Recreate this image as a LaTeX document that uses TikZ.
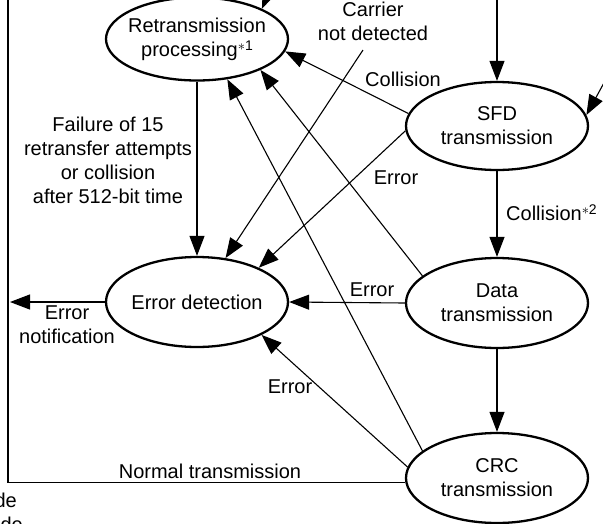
\documentclass[tikz,border=0pt]{standalone}
\usepackage{fontspec}
\setmainfont{Liberation Sans}
\usetikzlibrary{shapes.geometric,arrows.meta}
\begin{document}
\begin{tikzpicture}[x=1pt,y=-1pt,
  stnode/.style={ellipse,draw,line width=2.3pt,inner ysep=0pt,inner xsep=-8pt,align=center,minimum width=182pt,minimum height=88pt},
  conn/.style={line width=1.1pt,-{Triangle[length=20pt,width=15pt]}},
  plainln/.style={line width=1.1pt},
  lbl/.style={align=center,inner sep=0pt},
  font=\fontsize{20}{24}\selectfont]
\useasboundingbox (0,0) rectangle (603,523);
\clip (0,0) rectangle (603,523);
% states
\node[stnode,minimum height=83pt] (ret) at (197,39) {Retransmission\\processing{\fontsize{14}{14}\selectfont\raisebox{6pt}{$\ast$1}}};
\node[stnode] (sfd) at (497,126) {SFD\\transmission};
\node[stnode,minimum height=90pt] (err) at (197,302) {Error detection};
\node[stnode,minimum height=90pt] (data) at (497,303) {Data\\transmission};
\node[stnode,minimum height=90pt] (crc) at (497,478) {CRC\\transmission};
% free ends
\coordinate (carr) at (363,50);
\coordinate (notif) at (10,302);
\coordinate (ftop) at (8,-10);
\coordinate (sfdin) at (497,-10);
\coordinate (sfdr) at (611,70);
\coordinate (retin) at (285,-45);
% connectors
\draw[conn] (ret.south) -- (err.north);
\draw[conn] (carr) -- (err.57);
\draw[conn] (sfd.172) -- (ret.-8);
\draw[conn] (sfd.183) -- (err.29);
\draw[conn] (data.160) -- (ret.-26);
\draw[conn] (crc.160) -- (ret.-53);
\draw[conn] (crc.173) -- (err.-27);
\draw[conn] (data.west) -- (err.east);
\draw[conn] (sfd.south) -- (data.north);
\draw[conn] (data.south) -- (crc.north);
\draw[conn] (err.west) -- (notif);
\draw[plainln] (crc.183) -| (ftop);
\draw[conn] (sfdin) -- (sfd.north);
\draw[conn] (sfdr) -- (sfd.7);
\draw[conn] (retin) -- (ret.25);
% labels
\node[lbl] (lfail) at (108,160) {Failure of 15\\retransfer attempts\\or collision\\after 512-bit time};
\node[lbl] (lcarr) at (373,21) {Carrier\\not detected};
\node[lbl] (lcoll) at (403,79) {Collision};
\node[lbl] (lerr1) at (396,178) {Error};
\node[lbl,anchor=west] (lcoll2) at (506,213) {Collision{\fontsize{14}{14}\selectfont\raisebox{6pt}{$\ast$2}}};
\node[lbl] (lerr2) at (372,290) {Error};
\node[lbl] (lerr3) at (290,387) {Error};
\node[lbl] (lnorm) at (210,471) {Normal transmission};
\node[lbl] (lnotif) at (67,325) {Error\\notification};
\node[lbl,anchor=base east] (frag1) at (17,507) {de};
\node[lbl,anchor=base east] (frag2) at (23,531) {de};
\end{tikzpicture}
\end{document}
